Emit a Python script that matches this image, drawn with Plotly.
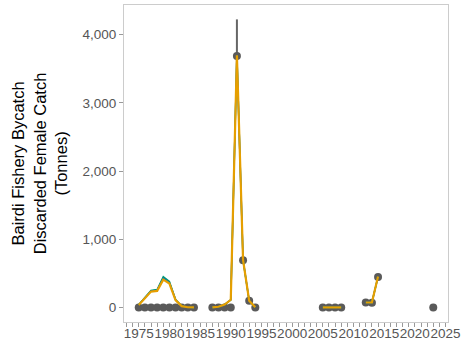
import plotly.graph_objects as go

# Model years (None breaks the line between segments)
model_years = [1975, 1976, 1977, 1978, 1979, 1980, 1981, 1982, 1983, 1984, None,
               1987, 1988, 1989, 1990, 1991, 1992, 1993, 1994, None,
               2005, 2006, 2007, 2008, None,
               2012, 2013, 2014]
model_green = [42, 145, 250, 265, 455, 385, 120, 25, 5, 3, None,
               3, 12, 45, 115, 3700, 700, 100, 5, None,
               3, 3, 3, 3, None,
               75, 75, 455]
model_blue = [41, 142, 243, 255, 432, 368, 115, 24, 5, 3, None,
              3, 12, 45, 115, 3700, 700, 100, 5, None,
              3, 3, 3, 3, None,
              75, 75, 455]
model_orange = [40, 138, 235, 245, 410, 352, 110, 22, 5, 3, None,
                3, 12, 45, 115, 3700, 700, 100, 5, None,
                3, 3, 3, 3, None,
                75, 75, 455]

obs_years = [1975, 1976, 1977, 1978, 1979, 1980, 1981, 1982, 1983, 1984,
             1987, 1988, 1989, 1990, 1991, 1992, 1993, 1994,
             2005, 2006, 2007, 2008, 2012, 2013, 2014, 2023]
obs_values = [0, 0, 0, 0, 0, 0, 0, 0, 0, 0,
              0, 0, 0, 0, 3690, 695, 100, 0,
              0, 0, 0, 0, 75, 70, 450, 0]
obs_err = [0, 0, 0, 0, 0, 0, 0, 0, 0, 0,
           0, 0, 0, 0, 535, 0, 0, 0,
           0, 0, 0, 0, 0, 0, 0, 0]

FONT = "Liberation Sans, Arial, sans-serif"
fig = go.Figure()

# error bars
fig.add_trace(go.Scatter(
    x=obs_years, y=obs_values, mode="markers",
    marker=dict(size=0.1, color="rgba(0,0,0,0)"),
    error_y=dict(type="data", array=obs_err, visible=True, color="#666666",
                 thickness=2, width=0),
    showlegend=False, hoverinfo="skip"))

# points
fig.add_trace(go.Scatter(
    x=obs_years, y=obs_values, mode="markers",
    marker=dict(size=8, color="#5a5a5a"), showlegend=False))

for vals, col, w in [(model_green, "#009E73", 1.5), (model_blue, "#0072B2", 1.5),
                     (model_orange, "#E69F00", 2.2)]:
    fig.add_trace(go.Scatter(x=model_years, y=vals, mode="lines",
                             line=dict(color=col, width=w),
                             connectgaps=False, showlegend=False))

fig.update_layout(
    width=462, height=344,
    margin=dict(l=124, r=14, t=5, b=22, autoexpand=False),
    plot_bgcolor="white", paper_bgcolor="white",
    font=dict(family=FONT, color="#555555", size=13),
    xaxis=dict(range=[1972.6, 2025.4], tickmode="linear", tick0=1975, dtick=5,
               tickangle=0, automargin=False, ticklabelstandoff=-5,
               showgrid=False, zeroline=False,
               showline=True, linecolor="#cccccc", linewidth=1, mirror=True,
               ticks="outside", ticklen=4, tickcolor="#999999",
               tickfont=dict(size=13.5, color="#555555"),
               minor=dict(dtick=1, tick0=1975, ticks="outside", ticklen=4,
                          tickcolor="#999999", showgrid=False)),
    yaxis=dict(range=[-211, 4436], tickmode="array",
               tickvals=[0, 1000, 2000, 3000, 4000],
               ticktext=["0", "1,000", "2,000", "3,000", "4,000"],
               automargin=False,
               showgrid=False, zeroline=False,
               showline=True, linecolor="#cccccc", linewidth=1, mirror=True,
               ticks="outside", ticklen=4, tickcolor="#999999",
               tickfont=dict(size=13.5, color="#555555")),
)

fig.add_annotation(
    text="Bairdi Fishery Bycatch<br>Discarded Female Catch<br>(Tonnes)",
    xref="paper", yref="paper", x=-0.26, y=0.5, xanchor="center", yanchor="middle",
    textangle=-90, showarrow=False,
    font=dict(family=FONT, size=16.5, color="#000000"))

fig.write_html("out.html")
